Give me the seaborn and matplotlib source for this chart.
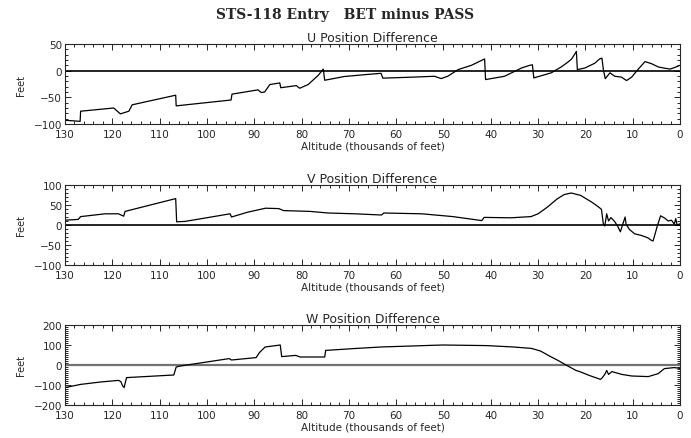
import matplotlib
matplotlib.use("Agg")
import matplotlib.pyplot as plt
from matplotlib.ticker import MultipleLocator, AutoMinorLocator
import numpy as np
import pandas as pd
import seaborn as sns

# altitude (thousands of feet) / difference (feet)
u_alt = [130, 126.8, 126.7, 119.7, 118.3, 116.5, 115.8, 106.6, 106.5, 94.9, 94.7,
         89.2, 88.5, 87.8, 86.7, 84.6, 84.4, 81.1, 80.4, 78.6, 76.5, 75.4, 75.1,
         71, 66, 63.2, 62.8, 56, 51.9, 50.5, 49.1, 46.9, 44.1, 41.3, 41.1,
         37.1, 33.5, 31.8, 31.2, 30.9, 27.2, 25.1, 23.7, 22.9, 21.9, 21.7,
         20.1, 18.0, 17.0, 16.5, 16.2, 15.8, 14.8, 13.8, 12.4, 11.3, 10.2,
         9.2, 7.4, 6.0, 4.6, 3.5, 2.1, 1.1, 0]
u_val = [-93, -95, -76, -70, -81, -76, -64, -46, -66, -55, -44,
         -36, -41, -40, -26, -23, -32, -28, -33, -26, -9, 3, -18,
         -11, -7, -5, -14, -12, -10.5, -14.8, -10.5, 2, 10, 22, -16.7,
         -10.5, 5, 10, 11, -13.6, -4, 7, 16, 22, 36, 2,
         5, 14, 22, 23.5, 2, -15, -4, -10.5, -12, -18.5, -12,
         -1, 17, 13, 7, 5, 3, 6, 10]

v_alt = [130, 127.2, 126.7, 121.5, 118.7, 117.6, 117.3, 106.6, 106.4, 104.6,
         95.1, 94.8, 91.4, 87.6, 84.8, 83.8, 78.2, 74.4, 68.8, 63.1, 62.6,
         54.6, 48.0, 41.9, 41.4, 35.8, 31.5, 30, 28, 26, 24.5, 23, 21,
         18.5, 17.1, 16.6, 16.2, 15.9, 15.5, 15.1, 14.6, 13.9, 13.2, 12.6,
         12.1, 11.6, 11.4, 10.7, 9.6, 8.2, 6.8, 6.1, 5.7, 5.4, 4.8, 4.1,
         3.2, 2.5, 1.8, 1.2, 0.9, 0.6, 0]
v_val = [12, 14, 21, 28, 28, 22, 34, 66, 8, 9,
         28, 20, 32, 42, 41, 36, 34, 30, 28, 25, 30,
         28, 21, 11, 19, 18, 21, 28, 45, 65, 76, 80, 74,
         56, 44, 39, 2, -2.5, 28, 10, 18.5, 10, -2.5, -17,
         2, 20, 2, -11, -22, -26, -32, -38, -40, -28, -2.5, 23,
         17, 10, 12, 2, 16, 0, 3]

w_alt = [130, 126.7, 122.5, 118.7, 118.2, 117.8, 117.5, 117.0, 107.0, 106.5,
         105.6, 95.3, 94.8, 89.6, 88.9, 87.7, 84.5, 84.2, 81.2, 80.3, 75.1, 74.9,
         69.0, 63.3, 50.2, 40.8, 35.2, 31.4, 29.5, 27.6, 25.8, 24.1, 22.0,
         21.2, 19.2, 16.8, 16.4, 15.8, 15.5, 15.1, 14.4, 12.3, 10.2, 6.7,
         4.6, 3.3, 1.2, 0]
w_val = [-113, -97, -85, -77, -83, -105, -113, -63, -50, -10,
         -5, 32, 25, 37, 62, 90, 100, 42, 48, 40, 40, 73,
         82, 90, 100, 97, 90, 83, 70, 45, 23, 0, -27,
         -33, -52, -72, -63, -43, -27, -47, -33, -47, -55, -58,
         -43, -18, -13, -17]

panels = [
    ("U Position Difference", u_alt, u_val, (-100, 50), 50, "black"),
    ("V Position Difference", v_alt, v_val, (-100, 100), 50, "black"),
    ("W Position Difference", w_alt, w_val, (-200, 200), 100, "0.45"),
]

sns.set_style("ticks")
plt.rcParams["font.family"] = ["DejaVu Sans"]
plt.rcParams["xtick.direction"] = "in"
plt.rcParams["ytick.direction"] = "in"

fig = plt.figure(figsize=(6.91, 4.39), dpi=100)
fig.text(0.5, 0.965, "STS-118 Entry   BET minus PASS", ha="center", va="center",
         fontsize=10, fontweight="bold", family="DejaVu Serif")

W, H = 691.0, 439.0
left, right = 65, 680
tops = [45, 186, 326]
ph = 80

for (title, alt, val, ylim, ystep, zcol), top in zip(panels, tops):
    ax = fig.add_axes([left / W, 1 - (top + ph) / H, (right - left) / W, ph / H])
    df = pd.DataFrame({"alt": alt, "val": val})
    sns.lineplot(data=df, x="alt", y="val", sort=False, estimator=None,
                 color="black", linewidth=0.9, ax=ax)
    ax.axhline(0, color=zcol, linewidth=1.2 if zcol == "black" else 1.6, zorder=1)
    ax.set_xlim(130, 0)
    ax.set_ylim(*ylim)
    ax.xaxis.set_major_locator(MultipleLocator(10))
    ax.xaxis.set_minor_locator(AutoMinorLocator(5))
    ax.yaxis.set_major_locator(MultipleLocator(ystep))
    ax.yaxis.set_minor_locator(AutoMinorLocator(5 if ystep == 50 else 10))
    ax.tick_params(which="both", top=True, right=True, direction="in",
                   labelsize=7.5, width=0.7)
    ax.tick_params(axis="x", pad=3.5)
    ax.tick_params(axis="y", pad=2)
    ax.tick_params(which="major", length=4)
    ax.tick_params(which="minor", length=2)
    for s in ax.spines.values():
        s.set_linewidth(0.8)
        s.set_visible(True)
    ax.set_title(title, fontsize=9, pad=2)
    ax.set_xlabel("Altitude (thousands of feet)", fontsize=7.5, labelpad=1)
    ax.set_ylabel("Feet", fontsize=7, labelpad=6)

fig.savefig("out.png", dpi=100)
